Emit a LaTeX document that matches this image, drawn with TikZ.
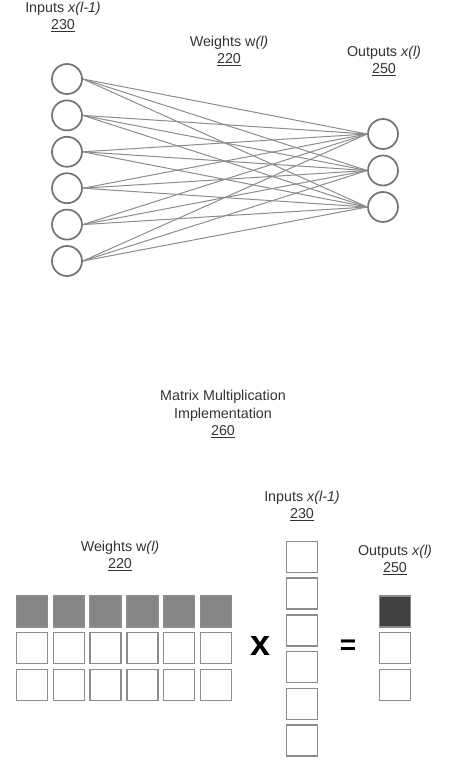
\documentclass[tikz,border=0pt]{standalone}
\usepackage{fontspec}
\setmainfont{Liberation Sans}
\begin{document}
\begin{tikzpicture}[x=1pt,y=-1pt,
  lbl/.style={align=center,text=black!80,font=\fontsize{14.3}{17.5}\selectfont,inner sep=0pt},
  neuron/.style={circle,draw=black!55,line width=1.7pt,minimum size=30pt,inner sep=0pt},
  wire/.style={draw=black!45,line width=1pt},
  cell/.style={rectangle,draw=black!45,line width=1.5pt,minimum size=31pt,inner sep=0pt,fill=white},
  wcell/.style={cell,fill=black!48},
  ocell/.style={cell,fill=black!75},
  opsym/.style={font=\bfseries,inner sep=0pt}]
\useasboundingbox (0,0) rectangle (470,760);
% ---------- network ----------
\node[lbl] (lin) at (63,17) {Inputs \textit{x(l-1)}\\\underline{230}};
\node[lbl] (lw) at (229,51) {Weights w\textit{(l)}\\\underline{220}};
\node[lbl] (lout) at (384,61) {Outputs \textit{x(l)}\\\underline{250}};
\foreach \i in {1,...,6} {
  \node[neuron] (in\i) at (67,{79+36.4*(\i-1)}) {};
}
\foreach \j in {1,2,3} {
  \node[neuron] (out\j) at (383,{134+36.5*(\j-1)}) {};
}
\foreach \i in {1,...,6} {
  \foreach \j in {1,2,3} {
    \draw[wire] (in\i.east) -- (out\j.west);
  }
}
% ---------- matrix multiplication ----------
\node[lbl] (lmm) at (223,414) {Matrix Multiplication\\Implementation\\\underline{260}};
\node[lbl] (lmw) at (120,556) {Weights w\textit{(l)}\\\underline{220}};
\node[lbl] (lmi) at (302,506) {Inputs \textit{x(l-1)}\\\underline{230}};
\node[lbl] (lmo) at (395,560) {Outputs \textit{x(l)}\\\underline{250}};
\foreach \c in {1,...,6} {
  \node[wcell] (w1\c) at ({32+36.8*(\c-1)},611.5) {};
  \node[cell] (w2\c) at ({32+36.8*(\c-1)},648) {};
  \node[cell] (w3\c) at ({32+36.8*(\c-1)},685) {};
}
\foreach \r in {1,...,6} {
  \node[cell] (x\r) at (302,{557+36.7*(\r-1)}) {};
}
\node[ocell] (o1) at (395,611.5) {};
\node[cell] (o2) at (395,648) {};
\node[cell] (o3) at (395,685) {};
\node[opsym,font=\fontsize{36}{36}\bfseries\selectfont] (times) at (261,646) {x};
\node[opsym,font=\fontsize{28}{28}\bfseries\selectfont] (eq) at (348,647) {=};
\end{tikzpicture}
\end{document}
